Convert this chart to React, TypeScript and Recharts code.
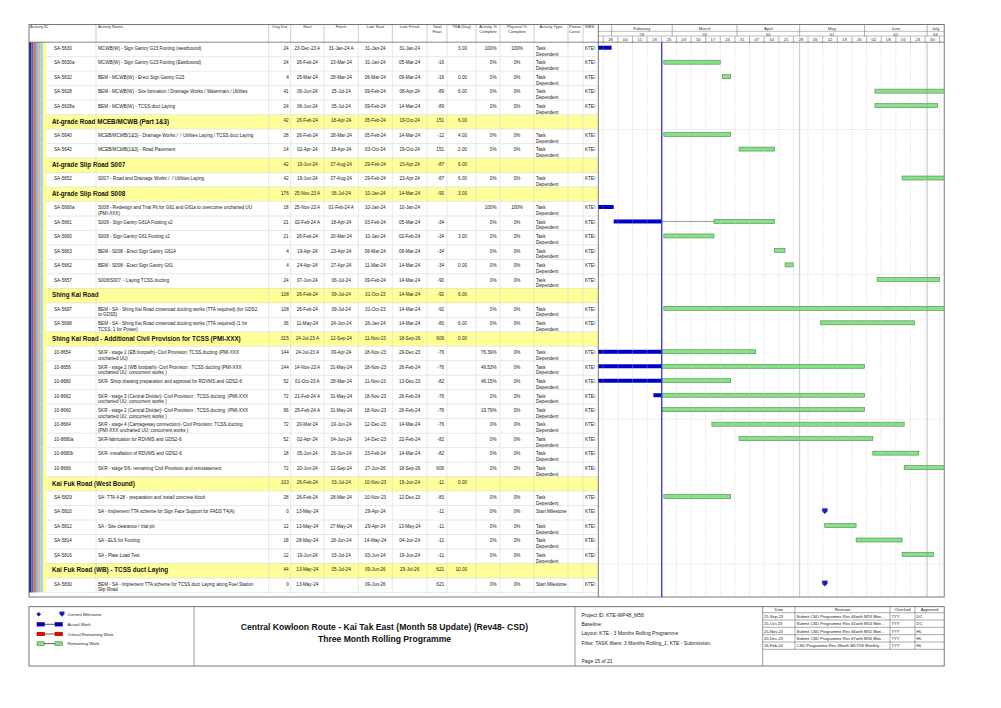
import React from 'react';
import { ComposedChart, Bar, XAxis, YAxis, ReferenceLine } from 'recharts';

const FONT = '"Liberation Sans", Arial, Helvetica, sans-serif';

// ---- activity table: one entry per printed row ('' id = WBS band row) ----
const ACTIVITY_IDS = [
  'SA-5630', 'SA-5630a', 'SA-5632', 'SA-5628', 'SA-5628a', '',
  'SA-5640', 'SA-5642', '', 'SA-5652', '',
  'SA-5660a', 'SA-5661', 'SA-5660', 'SA-5663', 'SA-5662', 'SA-5657', '',
  'SA-5697', 'SA-5698', '',
  '10-8654', '10-8656', '10-8680', '10-8662', '10-8660', '10-8664', '10-8680a', '10-8680b', '10-8666', '',
  'SA-5829', 'SA-5810', 'SA-5812', 'SA-5814', 'SA-5816', '', 'SA-5830',
];

const ACTIVITY_NAMES = [
  'MCWB(W) - Sign Gantry G23 Footing (westbound)',
  'MCWB(W) - Sign Gantry G23 Footing (Eastbound)',
  'BEM - MCWB(W) - Erect Sign Gantry G23',
  'BEM - MCWB(W) - Site formation / Drainage Works / Watermain / Utilities',
  'BEM - MCWB(W) - TCSS duct Laying',
  'At-grade Road MCEB/MCWB (Part 1&3)',
  'MCEB/MCWB(1&3) - Drainage Works /  / Utilities Laying / TCSS duct Laying',
  'MCEB/MCWB(1&3) - Road Pavement',
  'At-grade Slip Road S007',
  'S007 - Road and Drainage Works /  / Utilities Laying',
  'At-grade Slip Road S008',
  'S008 - Redesign and Trial Pit for G61 and G61a to overcome uncharted UU\n(PMI-XXX)',
  'S008 - Sign Gantry G61A Footing x2',
  'S008 - Sign Gantry G61 Footing x2',
  'BEM - S008 - Erect Sign Gantry G61A',
  'BEM - S008 - Erect Sign Gantry G61',
  'S008/S007  - Laying TCSS ducting',
  'Shing Kai Road',
  'BEM - SA - Shing Kai Road crossroad ducting works (TTA required) (for GDS2\nto GDS5)',
  'BEM - SA - Shing Kai Road crossroad ducting works (TTA required) (1 for\nTCSS; 1 for Power)',
  'Shing Kai Road - Additional Civil Provision for TCSS (PMI-XXX)',
  'SKR - stage 1 (EB footpath)- Civil Provision; TCSS ducting (PMI-XXX\nuncharted UU)',
  'SKR - stage 2 (WB footpath)- Civil Provision ; TCSS ducting (PMI-XXX\nuncharted UU; concurrent works )',
  'SKR- Shop drawing preparation and approval for RDVMS and GDS2-6',
  'SKR - stage 3 (Central Divider)- Civil Provision ; TCSS ducting  (PMI-XXX\nuncharted UU; concurrent works )',
  'SKR - stage 2 (Central Divider)- Civil Provision ; TCSS ducting  (PMI-XXX\nuncharted UU; concurrent works )',
  'SKR - stage 4 (Carriageway connection)- Civil Provision; TCSS ducting\n(PMI-XXX uncharted UU; concurrent works )',
  'SKR-fabrication for RDVMS and GDS2-6',
  'SKR- installation of RDVMS and GDS2-6',
  'SKR - stage 5/6- remaining Civil Provision and reinstatement',
  'Kai Fuk Road (West Bound)',
  'SA- TTA 4.28 - preparation and install concrete block',
  'SA - Implement TTA scheme for Sign Face Support for FADS T4(A)',
  'SA - Site clearance / trial pit',
  'SA - ELS for Footing',
  'SA - Plate Load Test',
  'Kai Fuk Road (WB) - TCSS duct Laying',
  'BEM - SA - Implement TTA scheme for TCSS duct Laying along Fuel Station\nSlip Road',
];

const ORIG_DUR = [24, 24, 4, 41, 24, 42, 28, 14, 42, 42, 176, 18, 21, 21, 4, 4, 24, 108, 108, 36, 315,
  144, 144, 52, 72, 96, 72, 52, 18, 72, 103, 28, 0, 12, 18, 12, 44, 0];

const START = ['23-Dec-23 A', '26-Feb-24', '25-Mar-24', '06-Jun-24', '06-Jun-24', '26-Feb-24', '26-Feb-24',
  '02-Apr-24', '19-Jun-24', '19-Jun-24', '25-Nov-23 A', '25-Nov-23 A', '02-Feb-24 A', '26-Feb-24', '19-Apr-24',
  '24-Apr-24', '07-Jun-24', '26-Feb-24', '26-Feb-24', '11-May-24', '24-Jul-23 A', '24-Jul-23 A', '14-Nov-23 A',
  '01-Oct-23 A', '21-Feb-24 A', '25-Feb-24 A', '20-Mar-24', '02-Apr-24', '05-Jun-24', '20-Jun-24', '26-Feb-24',
  '26-Feb-24', '13-May-24', '13-May-24', '28-May-24', '19-Jun-24', '13-May-24', '13-May-24'];

const FINISH = ['31-Jan-24 A', '23-Mar-24', '28-Mar-24', '25-Jul-24', '05-Jul-24', '18-Apr-24', '28-Mar-24',
  '18-Apr-24', '07-Aug-24', '07-Aug-24', '06-Jul-24', '01-Feb-24 A', '18-Apr-24', '20-Mar-24', '23-Apr-24',
  '27-Apr-24', '06-Jul-24', '09-Jul-24', '09-Jul-24', '24-Jun-24', '12-Sep-24', '09-Apr-24', '31-May-24',
  '28-Mar-24', '31-May-24', '31-May-24', '19-Jun-24', '04-Jun-24', '26-Jun-24', '12-Sep-24', '03-Jul-24',
  '28-Mar-24', '', '27-May-24', '18-Jun-24', '03-Jul-24', '05-Jul-24', ''];

const LATE_START = ['31-Jan-24', '31-Jan-24', '06-Mar-24', '09-Feb-24', '09-Feb-24', '05-Feb-24', '05-Feb-24',
  '03-Oct-24', '29-Feb-24', '29-Feb-24', '10-Jan-24', '10-Jan-24', '03-Feb-24', '10-Jan-24', '06-Mar-24',
  '11-Mar-24', '09-Feb-24', '31-Oct-23', '31-Oct-23', '26-Jan-24', '11-Nov-23', '18-Nov-23', '18-Nov-23',
  '11-Nov-23', '18-Nov-23', '18-Nov-23', '12-Dec-23', '14-Dec-23', '23-Feb-24', '27-Jun-26', '10-Nov-23',
  '10-Nov-23', '29-Apr-24', '29-Apr-24', '14-May-24', '03-Jun-24', '09-Jun-26', '09-Jun-26'];

const LATE_FINISH = ['31-Jan-24', '05-Mar-24', '09-Mar-24', '08-Apr-24', '14-Mar-24', '19-Oct-24', '14-Mar-24',
  '19-Oct-24', '23-Apr-24', '23-Apr-24', '14-Mar-24', '10-Jan-24', '05-Mar-24', '02-Feb-24', '09-Mar-24',
  '14-Mar-24', '14-Mar-24', '14-Mar-24', '14-Mar-24', '14-Mar-24', '18-Sep-26', '29-Dec-23', '26-Feb-24',
  '13-Dec-23', '26-Feb-24', '26-Feb-24', '14-Mar-24', '22-Feb-24', '14-Mar-24', '18-Sep-26', '19-Jun-24',
  '12-Dec-23', '', '13-May-24', '04-Jun-24', '19-Jun-24', '29-Jul-26', ''];

const TOTAL_FLOAT = ['', '-16', '-16', '-89', '-89', '151', '-12', '151', '-87', '-87', '-90', '', '-34', '-34',
  '-34', '-34', '-90', '-92', '-92', '-80', '606', '-76', '-76', '-82', '-76', '-76', '-76', '-82', '-82', '606',
  '-11', '-83', '-11', '-11', '-11', '-11', '621', '621'];

const TRA_DAYS = ['3.00', '', '0.00', '6.00', '', '6.00', '4.00', '2.00', '6.00', '6.00', '3.00', '', '', '3.00',
  '', '0.00', '', '6.00', '', '6.00', '0.00', '', '', '', '', '', '', '', '', '', '0.00', '', '', '', '', '',
  '10.00', ''];

const ACT_PCT = ['100%', '0%', '0%', '0%', '0%', '', '0%', '0%', '', '0%', '', '100%', '0%', '0%', '0%', '0%',
  '0%', '', '0%', '0%', '', '76.39%', '46.53%', '46.15%', '0%', '19.79%', '0%', '0%', '0%', '0%', '', '0%', '0%',
  '0%', '0%', '0%', '', '0%'];

const PHYS_PCT = ['100%', '0%', '0%', '0%', '0%', '', '0%', '0%', '', '0%', '', '100%', '0%', '0%', '0%', '0%',
  '0%', '', '0%', '0%', '', '0%', '0%', '0%', '0%', '0%', '0%', '0%', '0%', '0%', '', '0%', '0%', '0%', '0%',
  '0%', '', '0%'];

// remaining work that resumes after the data date (SA-5661)
const RESUME: Record<number, string> = { 12: '21-Mar-24' };
const DATA_DATE_STR = '25-Feb-24';

// ---- timescale ----
const MONTH_FIRST = ['01-Feb-24', '01-Mar-24', '01-Apr-24', '01-May-24', '01-Jun-24', '01-Jul-24', '01-Aug-24'];
const MONTH_NAMES = ['February', 'March', 'April', 'May', 'June', 'July'];
const MONTH_PERIODS = ['58', '59', '60', '61', '62', '63'];
const MAJOR_LINES = ['01-May-24', '01-Jul-24'];
const WEEK_STARTS = ['28-Jan-24', '04-Feb-24', '11-Feb-24', '18-Feb-24', '25-Feb-24', '03-Mar-24', '10-Mar-24',
  '17-Mar-24', '24-Mar-24', '31-Mar-24', '07-Apr-24', '14-Apr-24', '21-Apr-24', '28-Apr-24', '05-May-24',
  '12-May-24', '19-May-24', '26-May-24', '02-Jun-24', '09-Jun-24', '16-Jun-24', '23-Jun-24', '30-Jun-24',
  '07-Jul-24'];

// ---- revision block ----
const REV_DATES = ['25-Sep-23', '25-Oct-23', '25-Nov-23', '20-Dec-23', '26-Feb-24'];
const REV_TEXT = ['Submit CSD Programme Rev 44with M53 Mon...', 'Submit CSD Programme Rev 45with M54 Mon...',
  'Submit CSD Programme Rev 46with M55 Mon...', 'Submit CSD Programme Rev 47with M56 Mon...',
  'CSD Programme Rev 48with M57/58 Monthly ...'];
const REV_CHECKED = ['TYY', 'TYY', 'TYY', 'TYY', 'TYY'];
const REV_APPROVED = ['DC', 'DC', 'HL', 'HL', 'HL'];

const MON: Record<string, number> = { Jan: 0, Feb: 1, Mar: 2, Apr: 3, May: 4, Jun: 5, Jul: 6, Aug: 7, Sep: 8, Oct: 9, Nov: 10, Dec: 11 };
function dayOf(s: string) {
  const [dd, mm, yy] = s.split(' ')[0].split('-');
  return (Date.UTC(2000 + Number(yy), MON[mm], Number(dd)) - Date.UTC(2024, 1, 25)) / 86400000;
}

// layout
const ROW0 = 42.2;
const RH = 14.48;
const NROW = ACTIVITY_IDS.length;
const TOPY = 24.5;
const FRAME_B = 597;
const GX0 = 598.3;
const GX1 = 944.2;
const D0 = -30.5;
const D1 = 135;
const HEAD_H = ROW0 - TOPY;
const CH = FRAME_B - TOPY;
const PAD_B = FRAME_B - (ROW0 + NROW * RH);

const DATA_DATE = dayOf(DATA_DATE_STR);

const ganttData = ACTIVITY_IDS.map((id, i) => {
  const row: any = { row: 'r' + i, actual: null, remain: null, link: null, ms: null };
  if (!id) return row;
  const s = dayOf(START[i]);
  if (ORIG_DUR[i] === 0) {
    row.ms = [s, s];
    return row;
  }
  const f = dayOf(FINISH[i]) + 1;
  const sA = START[i].endsWith(' A');
  const fA = FINISH[i].endsWith(' A');
  if (sA && fA) row.actual = [s, f];
  else if (sA) {
    row.actual = [s, DATA_DATE];
    const r = RESUME[i] ? dayOf(RESUME[i]) : DATA_DATE;
    row.remain = [r, f];
    if (r > DATA_DATE) row.link = [DATA_DATE, r];
  } else row.remain = [s, f];
  return row;
});

const weekDays = WEEK_STARTS.map(dayOf);
const weekCenters = weekDays.map(d => d + 3.5).filter(c => c + 3.5 <= D1);
const monthDays = MONTH_FIRST.map(dayOf);
const monthCenters = MONTH_NAMES.map((_, i) => (Math.max(monthDays[i], D0) + Math.min(monthDays[i + 1], D1)) / 2);
const majorDays = MAJOR_LINES.map(dayOf);
const rowRefs = [6, 16, 26, 36];

const BAR_H = 4;
const SHIFT = -2;

function WeekTick(props: any) {
  const { x, payload } = props;
  const v = payload.value;
  const wi = weekDays.indexOf(v);
  if (wi >= 0) return <line x1={x} x2={x} y1={11.5} y2={HEAD_H} stroke="#666" strokeWidth={0.5} />;
  const ci = weekCenters.indexOf(v);
  if (ci < 0) return <g />;
  return (
    <text x={x} y={14.7} fontSize={4.2} fontFamily={FONT} fill="#333" textAnchor="middle" dominantBaseline="central">
      {WEEK_STARTS[ci].slice(0, 2)}
    </text>
  );
}

function MonthTick(props: any) {
  const { x, payload } = props;
  const v = payload.value;
  if (monthDays.indexOf(v) >= 0) return <line x1={x} x2={x} y1={0} y2={11.5} stroke="#666" strokeWidth={0.5} />;
  const mi = monthCenters.indexOf(v);
  if (mi < 0) return <g />;
  return (
    <g>
      <text x={x} y={3.6} fontSize={4.3} fontFamily={FONT} fill="#333" textAnchor="middle" dominantBaseline="central">{MONTH_NAMES[mi]}</text>
      <text x={x} y={9.2} fontSize={4.1} fontFamily={FONT} fill="#333" textAnchor="middle" dominantBaseline="central">{MONTH_PERIODS[mi]}</text>
    </g>
  );
}

function RemainShape(p: any) {
  if (!p.payload || !p.payload.remain) return <g />;
  return <rect x={p.x} y={p.y + SHIFT} width={Math.max(p.width, 0)} height={BAR_H} fill="#86e286" stroke="#4a874a" strokeWidth={0.6} />;
}
function ActualShape(p: any) {
  if (!p.payload || !p.payload.actual) return <g />;
  return <rect x={p.x} y={p.y + SHIFT} width={Math.max(p.width, 0)} height={BAR_H} fill="#0000c8" />;
}
function LinkShape(p: any) {
  if (!p.payload || !p.payload.link) return <g />;
  const cy = p.y + SHIFT + BAR_H / 2;
  return <line x1={p.x} x2={p.x + p.width} y1={cy} y2={cy} stroke="#555" strokeWidth={0.6} />;
}
function Shield({ cx, cy, r = 2.6 }: { cx: number; cy: number; r?: number }) {
  return (
    <path d={`M${cx - r},${cy - r} L${cx + r},${cy - r} L${cx + r},${cy + 0.2} L${cx},${cy + r + 0.2} L${cx - r},${cy + 0.2} Z`}
      fill="#1c1cc8" stroke="#10107a" strokeWidth={0.3} />
  );
}
function MilestoneShape(p: any) {
  if (!p.payload || !p.payload.ms) return <g />;
  return <Shield cx={p.x} cy={p.y + SHIFT + BAR_H / 2} />;
}

// ---- table helpers ----
const COLS: Record<string, [number, number]> = {
  name: [96, 268.7], dur: [268.7, 290.7], start: [290.7, 324], finish: [324, 358.3], ls: [358.3, 392.3],
  lf: [392.3, 427], tf: [427, 447], tra: [447, 476], ap: [476, 500], pp: [500, 534], type: [534, 568],
  pc: [568, 583], wbs: [583, GX0],
};
const COL_LINES = [96, 268.7, 290.7, 324, 358.3, 392.3, 427, 447, 476, 500, 534, 568, 583];

function Txt({ left, top, width, align = 'left', fs = 4.6, fw = 400, lh = 5.7, color = '#1a1a1a', text, clip }: any) {
  return (
    <div style={{
      position: 'absolute', left, top, width, textAlign: align, fontSize: fs, fontWeight: fw, lineHeight: `${lh}px`,
      color, whiteSpace: 'pre', fontFamily: FONT, overflow: clip ? 'hidden' : 'visible',
    }}>{text}</div>
  );
}

function colText(key: string, text: string, top: number, align: string, extra: any = {}) {
  const [a, b] = COLS[key];
  if (!text) return null;
  if (align === 'center') return <Txt key={key} left={a} width={b - a} top={top} align="center" text={text} {...extra} />;
  if (align === 'right') return <Txt key={key} left={b - 40 - (extra.pr ?? 3)} width={40} top={top} align="right" text={text} {...extra} />;
  return <Txt key={key} left={a + 2} width={b - a - 2} top={top} text={text} {...extra} />;
}

const STRIPES = ['#262b86', '#4d63c9', '#e07a3c', '#86b6ea', '#cdb48e', '#a9d4f2'];

const HEADERS: { t: string; key?: string; x?: number; align: string }[] = [
  { t: 'Activity ID', x: 30, align: 'left' },
  { t: 'Activity Name', x: 98, align: 'left' },
  { t: 'Orig Dur', key: 'dur', align: 'center' },
  { t: 'Start', key: 'start', align: 'center' },
  { t: 'Finish', key: 'finish', align: 'center' },
  { t: 'Late Start', key: 'ls', align: 'center' },
  { t: 'Late Finish', key: 'lf', align: 'center' },
  { t: 'Total\nFloat', key: 'tf', align: 'center' },
  { t: 'TRA (Day)', key: 'tra', align: 'center' },
  { t: 'Activity %\nComplete', key: 'ap', align: 'center' },
  { t: 'Physical %\nComplete', key: 'pp', align: 'center' },
  { t: 'Activity Type', key: 'type', align: 'center' },
  { t: 'Primar\nConst', x: 569, align: 'left' },
  { t: 'WBS', x: 585, align: 'left' },
];

function TableBody() {
  const out: React.ReactNode[] = [];
  ACTIVITY_IDS.forEach((id, i) => {
    const top = ROW0 + i * RH;
    const t = top + 3.8;
    const group = !id;
    const cells: React.ReactNode[] = [];
    if (group) {
      cells.push(<div key="bg" style={{ position: 'absolute', left: 43, top, width: GX0 - 43, height: RH, background: '#ffff99' }} />);
      cells.push(<Txt key="gname" left={52} top={top + 3} fs={6.3} fw={700} lh={7} color="#111" text={ACTIVITY_NAMES[i]} />);
    } else {
      cells.push(<Txt key="id" left={54} top={t} text={id} />);
      cells.push(<Txt key="name" left={98} top={t} text={ACTIVITY_NAMES[i]} />);
    }
    cells.push(colText('dur', String(ORIG_DUR[i]), t, 'right', { pr: 2 }));
    cells.push(colText('start', START[i], t, 'center'));
    cells.push(colText('finish', FINISH[i], t, 'center'));
    cells.push(colText('ls', LATE_START[i], t, 'center'));
    cells.push(colText('lf', LATE_FINISH[i], t, 'center'));
    cells.push(colText('tf', TOTAL_FLOAT[i], t, 'right', { pr: 3 }));
    cells.push(colText('tra', TRA_DAYS[i], t, 'right', { pr: 9 }));
    cells.push(colText('ap', ACT_PCT[i], t, 'right', { pr: 3.5 }));
    cells.push(colText('pp', PHYS_PCT[i], t, 'center'));
    if (!group) {
      cells.push(<Txt key="type" left={536} top={t} text={ORIG_DUR[i] === 0 ? 'Start Milestone' : 'Task\nDependent'} />);
      cells.push(<Txt key="wbs" left={585} top={t} text={'KTE\\'} />);
    }
    out.push(<React.Fragment key={i}>{cells}</React.Fragment>);
  });
  return <>{out}</>;
}

function Frame() {
  const lines: React.ReactNode[] = [];
  const rowsBottom = ROW0 + NROW * RH;
  COL_LINES.forEach((x, k) => {
    lines.push(<line key={'h' + k} x1={x} x2={x} y1={TOPY} y2={ROW0} stroke="#999" strokeWidth={0.5} />);
    lines.push(<line key={'b' + k} x1={x} x2={x} y1={ROW0} y2={rowsBottom} stroke="#d2d2d2" strokeWidth={0.5} />);
  });
  for (let i = 1; i <= NROW; i++) {
    const y = ROW0 + i * RH;
    lines.push(<line key={'r' + i} x1={43} x2={GX0} y1={y} y2={y} stroke="#d2d2d2" strokeWidth={0.5} />);
  }
  // revision grid
  const RX = [762.7, 795, 890, 915, GX1];
  const RY = [606.7, 612.7, 620, 627.3, 634.7, 642, 649.3];
  RX.slice(1, 4).forEach((x, k) => lines.push(<line key={'rx' + k} x1={x} x2={x} y1={RY[0]} y2={RY[6]} stroke="#555" strokeWidth={0.5} />));
  RY.slice(1).forEach((y, k) => lines.push(<line key={'ry' + k} x1={RX[0]} x2={GX1} y1={y} y2={y} stroke="#555" strokeWidth={0.5} />));

  const legendY = [614.3, 624.3, 634, 643.6];
  const pair = (y: number, fill: string, stroke: string) => (
    <g>
      <line x1={44} x2={55} y1={y} y2={y} stroke="#333" strokeWidth={0.8} />
      <rect x={37} y={y - 1.8} width={7.5} height={3.6} fill={fill} stroke={stroke} strokeWidth={0.5} />
      <rect x={55} y={y - 1.8} width={7.5} height={3.6} fill={fill} stroke={stroke} strokeWidth={0.5} />
    </g>
  );

  return (
    <svg width={1001} height={708} style={{ position: 'absolute', left: 0, top: 0, pointerEvents: 'none' }}>
      {lines}
      {STRIPES.map((c, k) => (
        <rect key={'s' + k} x={29 + k * (14 / 6)} y={ROW0} width={14 / 6} height={rowsBottom - ROW0} fill={c} />
      ))}
      <rect x={43} y={ROW0} width={3.3} height={rowsBottom - ROW0} fill="#ffff99" />
      <line x1={29} x2={GX1} y1={ROW0} y2={ROW0} stroke="#555" strokeWidth={0.7} />
      <line x1={GX0} x2={GX1} y1={31.3} y2={31.3} stroke="#777" strokeWidth={0.5} />
      <line x1={GX0} x2={GX1} y1={36} y2={36} stroke="#777" strokeWidth={0.5} />
      <line x1={GX0} x2={GX0} y1={TOPY} y2={FRAME_B} stroke="#555" strokeWidth={0.8} />
      <rect x={29} y={TOPY} width={GX1 - 29} height={FRAME_B - TOPY} fill="none" stroke="#555" strokeWidth={0.8} />

      {/* footer */}
      <rect x={29} y={606.7} width={GX1 - 29} height={666 - 606.7} fill="none" stroke="#555" strokeWidth={0.8} />
      <line x1={194} x2={194} y1={606.7} y2={666} stroke="#555" strokeWidth={0.6} />
      <line x1={575} x2={575} y1={606.7} y2={666} stroke="#555" strokeWidth={0.6} />
      <line x1={762.7} x2={762.7} y1={606.7} y2={666} stroke="#555" strokeWidth={0.6} />

      <path d={`M38.7,${legendY[0] - 2.3} L41,${legendY[0]} L38.7,${legendY[0] + 2.3} L36.4,${legendY[0]} Z`} fill="#1a1a8c" />
      <Shield cx={62} cy={legendY[0] - 0.2} r={2.3} />
      {pair(legendY[1], '#0000c8', '#00006a')}
      {pair(legendY[2], '#ff0000', '#700000')}
      {pair(legendY[3], '#86e286', '#2d6a2d')}
    </svg>
  );
}

function Footer() {
  const legend = ['Current Milestone', 'Actual Work', 'Critical Remaining Work', 'Remaining Work'];
  const legendY = [614.3, 624.3, 634, 643.6];
  const proj = [
    ['Project ID: KTE-WP48_M58', 615],
    ['Baseline:', 624],
    ['Layout: KTE - 3 Months Rolling Programme', 633.3],
    ['Filter: TASK filters: 3 Months Rolling_1, KTE - Submission.', 642.7],
    ['Page 15 of 21', 660.7],
  ] as const;
  const rowY = [616.3, 623.6, 631, 638.3, 645.6];
  return (
    <>
      {legend.map((t, i) => <Txt key={t} left={67.5} top={legendY[i] - 2.5} fs={4.3} lh={5} color="#222" text={t} />)}
      <Txt left={194} width={381} top={621} align="center" fs={8.6} fw={700} lh={12} color="#111"
        text={'Central Kowloon Route - Kai Tak East (Month 58 Update) (Rev48- CSD)\nThree Month Rolling Programme'} />
      {proj.map(([t, y]) => <Txt key={t} left={581.5} top={y - 3} fs={5} lh={6} color="#222" text={t} />)}
      <Txt left={762.7} width={32.3} top={607.2} align="center" fs={4.1} lh={5} color="#222" text="Date" />
      <Txt left={795} width={95} top={607.2} align="center" fs={4.1} lh={5} color="#222" text="Revision" />
      <Txt left={890} width={25} top={607.2} align="center" fs={4.1} lh={5} color="#222" text="Checked" />
      <Txt left={915} width={29} top={607.2} align="center" fs={4.1} lh={5} color="#222" text="Approved" />
      {REV_DATES.map((d, i) => (
        <React.Fragment key={d}>
          <Txt left={764} top={rowY[i] - 2.5} fs={4.1} lh={5} color="#222" text={d} />
          <Txt left={796.5} top={rowY[i] - 2.5} fs={4.1} lh={5} color="#222" text={REV_TEXT[i]} />
          <Txt left={891.5} top={rowY[i] - 2.5} fs={4.1} lh={5} color="#222" text={REV_CHECKED[i]} />
          <Txt left={916.5} top={rowY[i] - 2.5} fs={4.1} lh={5} color="#222" text={REV_APPROVED[i]} />
        </React.Fragment>
      ))}
    </>
  );
}

function Gantt() {
  const yAxes = [0, 'a', 'l', 'm'];
  return (
    <div style={{ position: 'absolute', left: GX0, top: TOPY }}>
      <ComposedChart width={GX1 - GX0} height={CH} data={ganttData} layout="vertical"
        margin={{ top: 0, right: 0, bottom: 0, left: 0 }}>
        <XAxis xAxisId={0} type="number" orientation="top" domain={[D0, D1]} allowDataOverflow
          ticks={[...weekDays, ...weekCenters]} interval={0} height={HEAD_H - 11.5}
          axisLine={false} tickLine={false} tick={(p: any) => <WeekTick {...p} />} />
        <XAxis xAxisId="mo" type="number" orientation="top" domain={[D0, D1]} allowDataOverflow
          ticks={[...monthDays.slice(0, 6), ...monthCenters]} interval={0} height={11.5}
          axisLine={false} tickLine={false} tick={(p: any) => <MonthTick {...p} />} />
        {yAxes.map(id => (
          <YAxis key={String(id)} yAxisId={id} type="category" dataKey="row" hide padding={{ top: 0, bottom: PAD_B }} />
        ))}

        {weekDays.map(d => (
          <ReferenceLine key={'w' + d} xAxisId={0} yAxisId={0} x={d} stroke="#c2c2c2" strokeWidth={0.5} strokeDasharray="1.2 1.2" />
        ))}
        {majorDays.map(d => (
          <ReferenceLine key={'m' + d} xAxisId={0} yAxisId={0} x={d} stroke="#9a9a9a" strokeWidth={0.6} />
        ))}
        {rowRefs.map(r => (
          <ReferenceLine key={'h' + r} xAxisId={0} yAxisId={0} y={'r' + r} position="start" stroke="#c2c2c2" strokeWidth={0.5} strokeDasharray="1.2 1.2" />
        ))}

        <Bar xAxisId={0} yAxisId={0} dataKey="remain" barSize={BAR_H} shape={RemainShape} isAnimationActive={false} />
        <Bar xAxisId={0} yAxisId="l" dataKey="link" barSize={BAR_H} shape={LinkShape} isAnimationActive={false} />
        <Bar xAxisId={0} yAxisId="a" dataKey="actual" barSize={BAR_H} shape={ActualShape} isAnimationActive={false} />
        <Bar xAxisId={0} yAxisId="m" dataKey="ms" barSize={BAR_H} shape={MilestoneShape} isAnimationActive={false} />

        <ReferenceLine xAxisId={0} yAxisId={0} x={DATA_DATE} stroke="#2323d8" strokeWidth={1.2} />
      </ComposedChart>
    </div>
  );
}

export default function App() {
  return (
    <div style={{ position: 'absolute', left: 0, top: 0, width: 1001, height: 708, background: '#fff', overflow: 'hidden', fontFamily: FONT }}>
      <TableBody />
      {HEADERS.map(h => {
        if (h.key) {
          const [a, b] = COLS[h.key];
          return <Txt key={h.t} left={a} width={b - a} top={24.3} align="center" fs={4.1} lh={5} color="#333" text={h.t} />;
        }
        return <Txt key={h.t} left={h.x} top={24.3} fs={4.1} lh={5} color="#333" text={h.t} />;
      })}
      <Gantt />
      <Frame />
      <Footer />
    </div>
  );
}
